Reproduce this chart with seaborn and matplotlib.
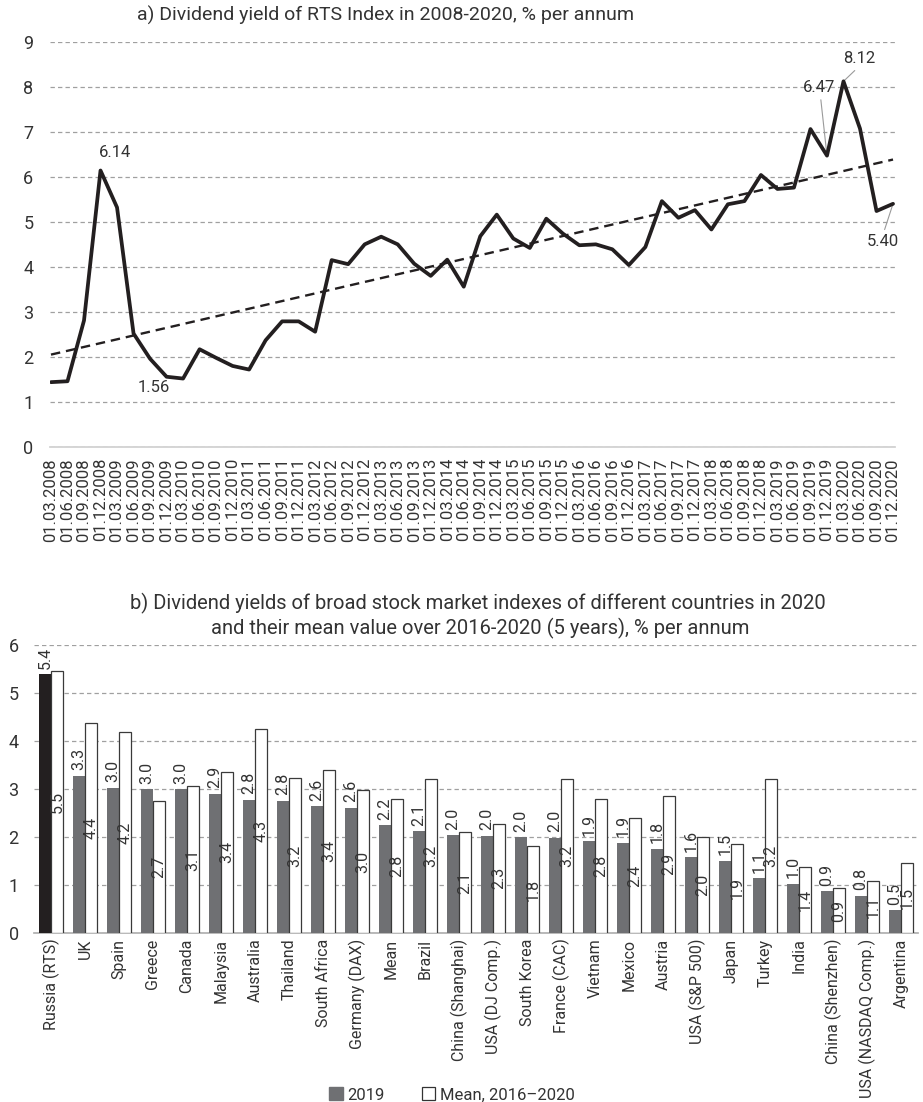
import numpy as np
import pandas as pd
import matplotlib
matplotlib.use('Agg')
import matplotlib.pyplot as plt
import seaborn as sns
from matplotlib.patches import Patch

# --- a) RTS dividend yield, quarterly, % per annum ---
years = list(range(2008, 2021))
months = ['03', '06', '09', '12']
dates = [f'01.{m}.{y}' for y in years for m in months]
rts_yield = [1.44, 1.46, 2.81, 6.14, 5.32, 2.52, 1.96, 1.56, 1.52, 2.17,
             1.98, 1.80, 1.72, 2.37, 2.79, 2.79, 2.56, 4.15, 4.06, 4.50,
             4.67, 4.50, 4.07, 3.80, 4.16, 3.56, 4.68, 5.16, 4.63, 4.42,
             5.07, 4.74, 4.48, 4.50, 4.39, 4.04, 4.44, 5.46, 5.09, 5.26,
             4.83, 5.39, 5.46, 6.04, 5.73, 5.76, 7.06, 6.47, 8.12, 7.07,
             5.24, 5.40]

# --- b) dividend yields by country ---
countries = ['Russia (RTS)', 'UK', 'Spain', 'Greece', 'Canada', 'Malaysia',
             'Australia', 'Thailand', 'South Africa', 'Germany (DAX)', 'Mean',
             'Brazil', 'China (Shanghai)', 'USA (DJ Comp.)', 'South Korea',
             'France (CAC)', 'Vietnam', 'Mexico', 'Austria', 'USA (S&P 500)',
             'Japan', 'Turkey', 'India', 'China (Shenzhen)',
             'USA (NASDAQ Comp.)', 'Argentina']
yield_2019 = [5.39, 3.27, 3.03, 2.99, 2.99, 2.90, 2.77, 2.76, 2.64, 2.61,
              2.24, 2.12, 2.04, 2.02, 1.99, 1.98, 1.91, 1.88, 1.76, 1.58,
              1.50, 1.14, 1.03, 0.87, 0.77, 0.47]
yield_mean = [5.46, 4.37, 4.19, 2.74, 3.06, 3.36, 4.26, 3.22, 3.40, 2.97,
              2.80, 3.20, 2.10, 2.28, 1.81, 3.20, 2.79, 2.40, 2.86, 1.99,
              1.86, 3.20, 1.37, 0.93, 1.09, 1.46]
series_names = ['2019', 'Mean, 2016\u20132020']

sns.set_theme(style='white')
plt.rcParams['font.family'] = ['Roboto', 'DejaVu Sans']
plt.rcParams['text.color'] = '#333333'
plt.rcParams['xtick.color'] = '#333333'
plt.rcParams['ytick.color'] = '#333333'

TXT = '#333333'
GRID = '#a0a0a0'
GRAY = '#6f7073'
DARK = '#231f20'

W, H = 923, 1102
fig = plt.figure(figsize=(W / 100, H / 100), dpi=100)

# ================= chart a =================
ax1 = fig.add_axes([50 / W, 1 - 447 / H, 845 / W, 405.3 / H])
x = np.arange(len(rts_yield))
trend = np.polyval(np.polyfit(x, rts_yield, 1), x)

sns.lineplot(x=x, y=trend, ax=ax1, color=DARK, lw=1.7, zorder=3)
ax1.lines[-1].set_dashes([4, 2.5])
sns.lineplot(x=x, y=rts_yield, ax=ax1, color=DARK, lw=2.7, zorder=4)

ax1.set_xlim(-0.06, len(x) - 1 + 0.12)
ax1.set_ylim(0, 9)
ax1.set_yticks(range(0, 10))
ax1.set_xticks(x)
ax1.set_xticklabels(dates, rotation=90, fontsize=12)
ax1.tick_params(axis='y', labelsize=13, length=0, pad=12)
ax1.tick_params(axis='x', length=4, width=0.8, color='#c8c8c8', pad=4)
ax1.yaxis.grid(True, linestyle=(0, (3.5, 2.5)), color=GRID, lw=0.9)
ax1.xaxis.grid(False)
for s in ['left', 'top', 'right']:
    ax1.spines[s].set_visible(False)
ax1.spines['bottom'].set_color('#d0d0d0')
ax1.set(xlabel='', ylabel='')

lead = dict(arrowstyle='-', color='#9a9a9a', lw=0.8, shrinkA=1, shrinkB=1)
ax1.text(3.85, 6.55, '6.14', ha='center', va='center', fontsize=12)
ax1.text(6.2, 1.33, '1.56', ha='center', va='center', fontsize=12)
ax1.annotate('6.47', xy=(47, rts_yield[47]), xytext=(46.5, 7.98),
             ha='center', va='center', fontsize=12,
             arrowprops=dict(lead, relpos=(0.55, 0)))
ax1.annotate('8.12', xy=(48, rts_yield[48]), xytext=(48.95, 8.62),
             ha='center', va='center', fontsize=12,
             arrowprops=dict(lead, relpos=(0.5, 0)))
ax1.annotate('5.40', xy=(51, rts_yield[51]), xytext=(50.4, 4.56),
             ha='center', va='center', fontsize=12, annotation_clip=False,
             arrowprops=dict(lead, relpos=(0.5, 1)))

fig.text(386 / W, 1 - 15 / H, 'a) Dividend yield of RTS Index in 2008-2020, % per annum',
         ha='center', va='center', fontsize=14)

# ================= chart b =================
ax2 = fig.add_axes([34 / W, 1 - 933 / H, 884 / W, 288 / H])
df = pd.DataFrame({
    'country': countries * 2,
    'series': [series_names[0]] * len(countries) + [series_names[1]] * len(countries),
    'value': yield_2019 + yield_mean,
})
sns.barplot(data=df, x='country', y='value', hue='series', hue_order=series_names,
            palette={series_names[0]: GRAY, series_names[1]: 'white'},
            saturation=1, width=0.72, gap=0.04, legend=False, ax=ax2, zorder=3)

gray_bars, white_bars = ax2.containers[0], ax2.containers[1]
for p in gray_bars:
    p.set_edgecolor('none')
gray_bars[0].set_facecolor(DARK)
for p in white_bars:
    p.set_edgecolor('#3a3a3a')
    p.set_linewidth(0.9)

ax2.bar_label(gray_bars, labels=[f'{v:.1f}' for v in yield_2019],
              rotation=90, padding=4, fontsize=11.5, color=TXT)
ax2.bar_label(white_bars, labels=[f'{v:.1f}' for v in yield_mean],
              label_type='center', rotation=90, fontsize=11.5, color=TXT)

ax2.set_xlim(-0.5, len(countries) - 0.5)
ax2.set_ylim(0, 6)
ax2.set_yticks(range(0, 7))
ax2.tick_params(axis='y', labelsize=13, length=0, pad=11)
ax2.tick_params(axis='x', labelsize=11.5, length=0, pad=4, rotation=90)
ax2.yaxis.grid(True, linestyle=(0, (3.5, 2.5)), color=GRID, lw=0.9, zorder=0)
ax2.set_axisbelow(True)
for s in ['left', 'top', 'right']:
    ax2.spines[s].set_visible(False)
ax2.spines['bottom'].set_color('#b0b0b0')
ax2.set(xlabel='', ylabel='')

fig.text(478 / W, 1 - 603 / H,
         'b) Dividend yields of broad stock market indexes of different countries in 2020',
         ha='center', va='center', fontsize=14.5)
fig.text(480 / W, 1 - 628 / H,
         'and their mean value over 2016-2020 (5 years), % per annum',
         ha='center', va='center', fontsize=14.5)

handles = [Patch(facecolor=GRAY, edgecolor=GRAY),
           Patch(facecolor='white', edgecolor='#333333', lw=0.9)]
fig.legend(handles, series_names, loc='center', ncol=2, frameon=False,
           bbox_to_anchor=(452 / W, 1 - 1095 / H), fontsize=12,
           handlelength=0.8, handleheight=0.8, handletextpad=0.3,
           columnspacing=2.2)

fig.savefig('out.png', dpi=100)
